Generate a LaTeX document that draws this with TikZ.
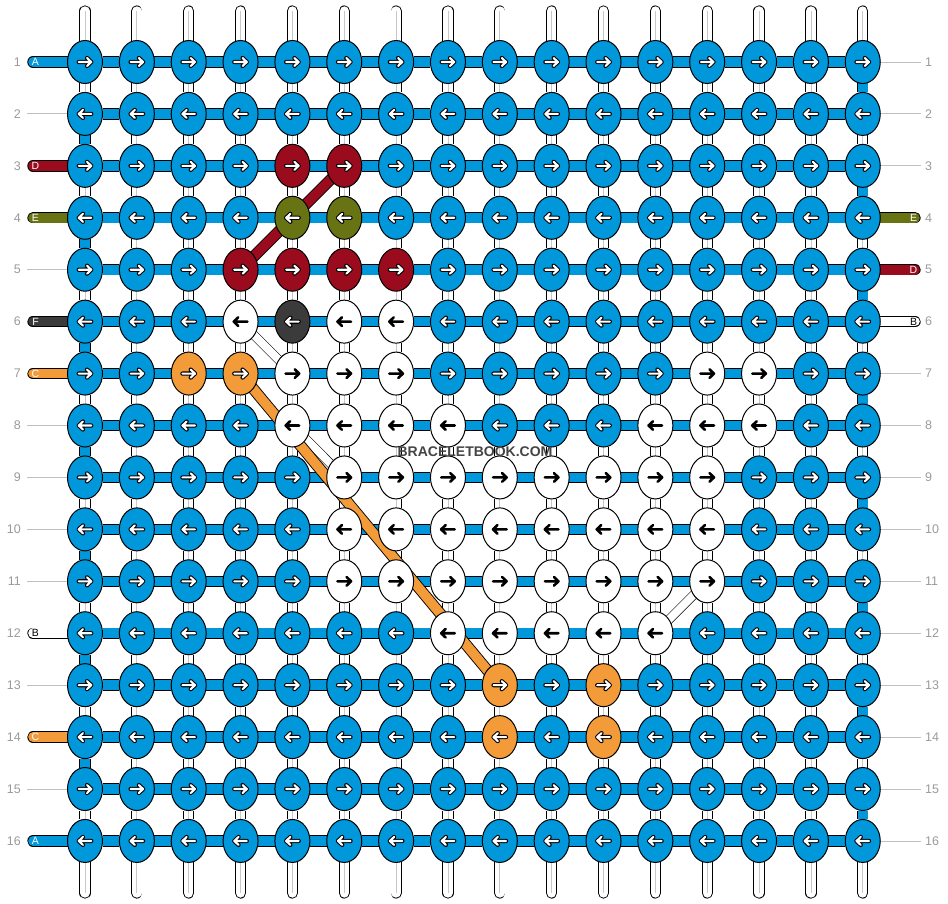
\documentclass[tikz,border=0pt]{standalone}
\usepackage{fontspec}
\setmainfont{Liberation Sans}
\usetikzlibrary{shapes.geometric,calc}
\pgfdeclarelayer{bg}
\pgfdeclarelayer{mid}
\pgfsetlayers{bg,mid,main}
\definecolor{kb}{HTML}{0097DB}
\definecolor{kr}{HTML}{9A0B1E}
\definecolor{ko}{HTML}{687414}
\definecolor{kk}{HTML}{3B3B3B}
\definecolor{ky}{HTML}{F29B38}
\definecolor{kw}{HTML}{FFFFFF}
\definecolor{numc}{HTML}{9A9A9A}
\definecolor{linec}{HTML}{C0C0C0}
\definecolor{strc}{HTML}{C8C8C8}
\definecolor{wmc}{HTML}{444444}
\begin{document}
\begin{tikzpicture}[x=1pt,y=-1pt,
  knot/.style={ellipse, draw=black, line width=1pt, minimum width=35pt, minimum height=43pt, inner sep=0pt, outer sep=0pt},
  hbar/.style={line width=0.9pt, draw=black, double=kb, double distance=9.6pt},
  vstr/.style={line width=0.9pt, draw=black, double=white, double distance=9.4pt},
  vcore/.style={draw=strc, line width=0.8pt},
  tabline/.style={line width=0.9pt, draw=black, double=#1, double distance=9.6pt, line cap=round},
  diag/.style={line width=0.9pt, draw=black, double=#1, double distance=9.6pt},
  diagw/.style={line width=0.6pt, draw=black, double=white, double distance=8pt},
  glin/.style={draw=linec, line width=0.9pt},
  arrout/.style={draw=black, line width=4.2pt, line cap=round, line join=round},
  arrin/.style={draw=white, line width=2.1pt, line cap=round, line join=round},
  arrblk/.style={draw=black, line width=2.6pt, line cap=round, line join=round},
  numl/.style={text=numc, font=\fontsize{12.5}{13}\selectfont, inner sep=0pt},
  tabtxt/.style={font=\fontsize{10.5}{10.5}\selectfont, inner sep=0pt}
]
\useasboundingbox (0,0) rectangle (948,904);
% knots
\foreach \r/\row in {
 1/{b,b,b,b,b,b,b,b,b,b,b,b,b,b,b,b},
 2/{b,b,b,b,b,b,b,b,b,b,b,b,b,b,b,b},
 3/{b,b,b,b,r,r,b,b,b,b,b,b,b,b,b,b},
 4/{b,b,b,b,o,o,b,b,b,b,b,b,b,b,b,b},
 5/{b,b,b,r,r,r,r,b,b,b,b,b,b,b,b,b},
 6/{b,b,b,w,k,w,w,b,b,b,b,b,b,b,b,b},
 7/{b,b,y,y,w,w,w,b,b,b,b,b,w,w,b,b},
 8/{b,b,b,b,w,w,w,w,b,b,b,w,w,w,b,b},
 9/{b,b,b,b,b,w,w,w,w,w,w,w,w,b,b,b},
 10/{b,b,b,b,b,w,w,w,w,w,w,w,w,b,b,b},
 11/{b,b,b,b,b,w,w,w,w,w,w,w,w,b,b,b},
 12/{b,b,b,b,b,b,b,w,w,w,w,w,b,b,b,b},
 13/{b,b,b,b,b,b,b,b,y,b,y,b,b,b,b,b},
 14/{b,b,b,b,b,b,b,b,y,b,y,b,b,b,b,b},
 15/{b,b,b,b,b,b,b,b,b,b,b,b,b,b,b,b},
 16/{b,b,b,b,b,b,b,b,b,b,b,b,b,b,b,b}}{
  \foreach \col [count=\c] in \row {
    \pgfmathsetmacro\xx{85+(\c-1)*51.85}
    \pgfmathsetmacro\yy{62+(\r-1)*51.93}
    \pgfmathsetmacro\dir{ifthenelse(mod(\r,2)==1,1,-1)}
    \node[knot, fill=k\col] (k-\r-\c) at (\xx,\yy) {};
    \def\tmpw{w}\edef\tmpc{\col}
    \ifx\tmpc\tmpw
      \draw[arrblk, shift={(\xx,\yy)}, xscale=\dir] (-6.8,0) -- (6.8,0) (2.3,-4.3) -- (6.8,0) -- (2.3,4.3);
    \else
      \draw[arrout, shift={(\xx,\yy)}, xscale=\dir] (-6.3,0) -- (6.3,0) (2,-4) -- (6.3,0) -- (2,4);
      \draw[arrin, shift={(\xx,\yy)}, xscale=\dir] (-6.3,0) -- (6.3,0) (2,-4) -- (6.3,0) -- (2,4);
    \fi
  }
}
% connectors
\begin{pgfonlayer}{bg}
  \foreach \r in {1,...,15}{
    \pgfmathtruncatemacro\rn{\r+1}
    \foreach \c in {1,...,16}{
      \draw[vstr] (k-\r-\c) -- (k-\rn-\c);
      \draw[vcore] (k-\r-\c) -- (k-\rn-\c);
    }
  }
  \foreach \r in {2,4,...,14}{
    \pgfmathtruncatemacro\rn{\r+1}
    \draw[hbar] (k-\r-1) -- (k-\rn-1);
  }
  \foreach \r in {1,3,...,15}{
    \pgfmathtruncatemacro\rn{\r+1}
    \draw[hbar] (k-\r-16) -- (k-\rn-16);
  }
  \foreach \r in {1,...,16}{
    \foreach \c in {1,...,15}{
      \pgfmathtruncatemacro\cn{\c+1}
      \draw[hbar] (k-\r-\c) -- (k-\r-\cn);
    }
  }
  \foreach \c in {1,...,16}{
    \pgfmathsetmacro\xx{85+(\c-1)*51.85}
    \coordinate (t-\c) at (\xx,11);
    \coordinate (b-\c) at (\xx,893);
    \draw[vstr, line cap=round] (t-\c) -- (k-1-\c);
    \draw[vcore] (t-\c) -- (k-1-\c);
    \draw[vstr, line cap=round] (b-\c) -- (k-16-\c);
    \draw[vcore] (b-\c) -- (k-16-\c);
  }
  % sides
  \foreach \r in {1,...,16}{
    \pgfmathsetmacro\yy{62+(\r-1)*51.93}
    \coordinate (tl-\r) at (33,\yy);
    \coordinate (gl-\r) at (27,\yy);
    \coordinate (tr-\r) at (915,\yy);
    \coordinate (gr-\r) at (921,\yy);
    \node[numl, anchor=east] (nl-\r) at (21,\yy) {\r};
    \node[numl, anchor=west] (nr-\r) at (925,\yy) {\r};
  }
  \foreach \r in {2,5,8,9,10,11,13,15}{\draw[glin] (gl-\r) -- (k-\r-1);}
  \foreach \r in {1,2,3,7,8,9,10,11,12,13,14,15,16}{\draw[glin] (k-\r-16) -- (gr-\r);}
  \foreach \r/\cc in {1/kb,3/kr,4/ko,6/kk,7/ky,12/kw,14/ky,16/kb}{
    \draw[tabline=\cc] (tl-\r) -- (k-\r-1);
  }
  \foreach \r/\cc in {4/ko,5/kr,6/kw}{
    \draw[tabline=\cc] (tr-\r) -- (k-\r-16);
  }
\end{pgfonlayer}
% tab letters
\foreach \r/\t/\tc in {1/A/white,3/D/white,4/E/white,6/F/white,7/C/white,12/B/black,14/C/white,16/A/white}{
  \node[tabtxt, text=\tc] (ll-\r) at ($(tl-\r)+(2.5,0)$) {\t};
}
\foreach \r/\t/\tc in {4/E/white,5/D/white,6/B/black}{
  \node[tabtxt, text=\tc] (lr-\r) at ($(tr-\r)+(-1.5,0)$) {\t};
}
% diagonals
\begin{pgfonlayer}{mid}
  \draw[diagw] (k-6-4.center) -- (k-7-5.center);
  \draw[diagw] (k-8-5.center) -- (k-9-6.center);
  \draw[diagw] (k-11-13.center) -- (k-12-12.center);
  \draw[diag=kr] (k-3-6.center) -- (k-5-4.center);
  \draw[diag=ky] (k-7-4.center) -- (k-13-9.center);
\end{pgfonlayer}
% watermark
\node[font=\bfseries\fontsize{14}{14}\selectfont, text=wmc, inner sep=0pt] (wm) at (475,452) {BRACELETBOOK.COM};
\end{tikzpicture}
\end{document}
